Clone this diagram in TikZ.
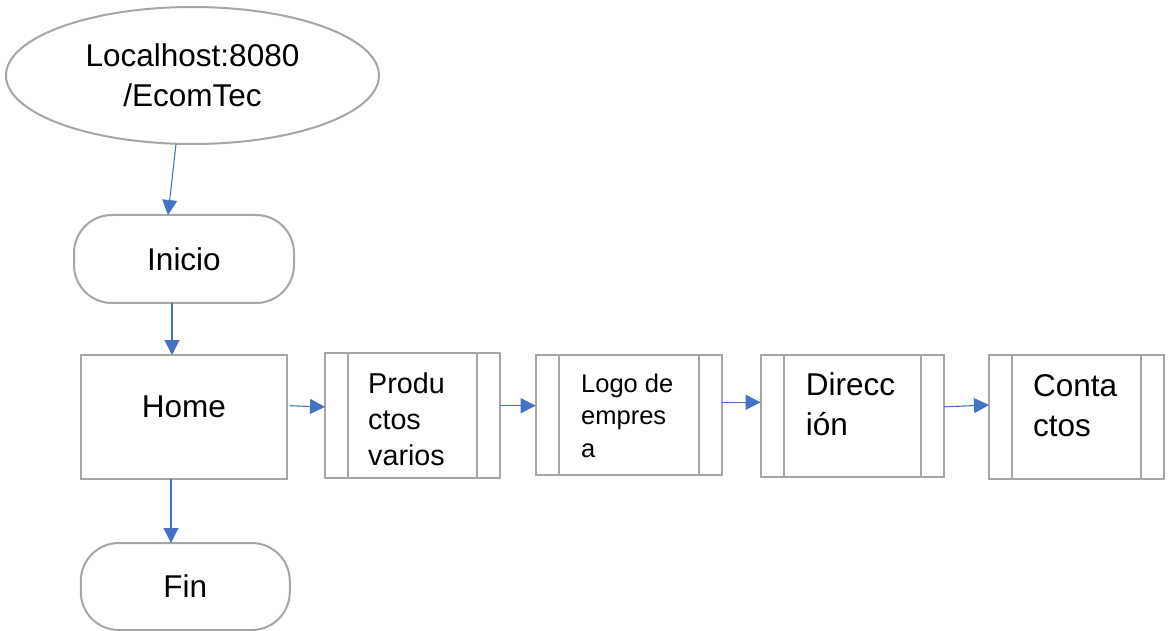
\documentclass[tikz,border=0pt]{standalone}
\usepackage{fontspec}
\setmainfont{Liberation Sans}
\usetikzlibrary{shapes.geometric,arrows.meta}
\definecolor{boxgray}{HTML}{A6A6A6}
\definecolor{arrblue}{HTML}{4472C4}
\begin{document}
\begin{tikzpicture}[x=1pt,y=-1pt,
  shapebox/.style={draw=boxgray,line width=2pt,inner sep=0pt,outer sep=0pt,fill=white},
  subproc/.style={shapebox,rectangle,path picture={
      \draw[boxgray,line width=2pt] ([xshift=23pt]path picture bounding box.south west) -- ([xshift=23pt]path picture bounding box.north west);
      \draw[boxgray,line width=2pt] ([xshift=-23pt]path picture bounding box.south east) -- ([xshift=-23pt]path picture bounding box.north east);}},
  conn/.style={draw=arrblue,line width=1.1pt,-{Triangle[length=15pt,width=15pt]}},
  bigtxt/.style={font=\fontsize{31.5}{40}\selectfont,inner sep=0pt},
  midtxt/.style={font=\fontsize{28.7}{36}\selectfont,inner sep=0pt},
  smalltxt/.style={font=\fontsize{25.5}{32.3}\selectfont,inner sep=0pt},
]
\useasboundingbox (0,0) rectangle (1168,631);

\node[shapebox,ellipse,minimum width=373pt,minimum height=137pt,bigtxt,align=center] (E) at (192.5,75.5) {Localhost:8080\\/EcomTec};
\node[shapebox,rectangle,rounded corners=38pt,minimum width=220pt,minimum height=88pt,bigtxt] (ini) at (184,259) {Inicio};
\node[shapebox,rectangle,minimum width=206pt,minimum height=124pt] (home) at (184,417) {};
\node[bigtxt,anchor=base] (thome) at (184,417) {Home};
\node[shapebox,rectangle,rounded corners=38pt,minimum width=209pt,minimum height=87pt,bigtxt] (fin) at (185.3,586.5) {Fin};

\node[subproc,minimum width=175pt,minimum height=125pt] (prod) at (412.5,415.5) {};
\node[midtxt,anchor=base west,align=left] (tprod) at (368,465) {Produ\\ctos\\varios};

\node[subproc,minimum width=186pt,minimum height=120pt] (logo) at (628.7,415) {};
\node[smalltxt,anchor=base west,align=left] (tlogo) at (581,457) {Logo de\\empres\\a};

\node[subproc,minimum width=183.3pt,minimum height=121.7pt] (dir) at (852.3,415.8) {};
\node[bigtxt,anchor=base west,align=left] (tdir) at (805.7,435) {Direcc\\ión};

\node[subproc,minimum width=175pt,minimum height=124pt] (cont) at (1076.5,417) {};
\node[bigtxt,anchor=base west,align=left] (tcont) at (1033,436.7) {Conta\\ctos};

\draw[conn] ([xshift=-16.5pt]E.south) -- ([xshift=-16pt]ini.north);
\draw[conn] ([xshift=-12pt]ini.south) -- ([xshift=-12pt]home.north);
\draw[conn] ([xshift=-13pt]home.south) -- ([xshift=-14.3pt]fin.north);
\draw[conn] ([xshift=3pt,yshift=11.3pt]home.east) -- ([yshift=8.5pt]prod.west);
\draw[conn] ([yshift=9.8pt]prod.east) -- ([yshift=9.3pt]logo.west);
\draw[conn] ([yshift=12.7pt]logo.east) -- ([yshift=13.5pt]dir.west);
\draw[conn] ([yshift=9pt]dir.east) -- ([yshift=12pt]cont.west);
\end{tikzpicture}
\end{document}
